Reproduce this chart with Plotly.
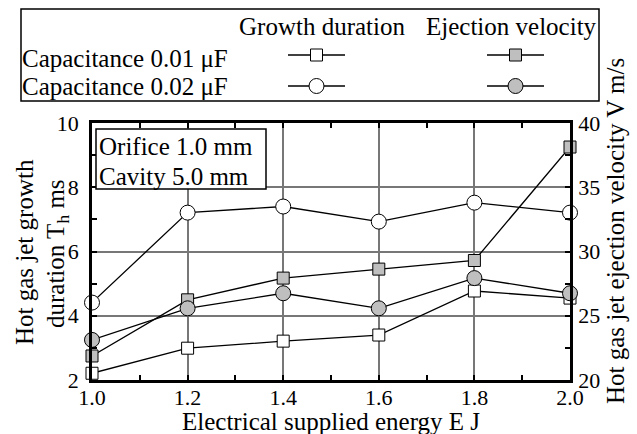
import plotly.graph_objects as go

# ---- data ----
energy = [1.0, 1.2, 1.4, 1.6, 1.8, 2.0]
growth_001 = [2.21, 2.99, 3.21, 3.40, 4.77, 4.55]
growth_002 = [4.41, 7.21, 7.40, 6.93, 7.52, 7.21]
velocity_001 = [21.87, 26.24, 27.93, 28.63, 29.30, 38.13]
velocity_002 = [23.12, 25.58, 26.75, 25.58, 27.93, 26.75]

x_ticks = [1.0, 1.2, 1.4, 1.6, 1.8, 2.0]
y_left_ticks = [2, 4, 6, 8, 10]
y_right_ticks = [20, 25, 30, 35, 40]

W, H = 637, 434
FONT = "Liberation Serif"
GRAY = "#bfbfbf"
LINE = dict(color="black", width=1.3)
TICK_SIZE = 22
TEXT_SIZE = 25

fig = go.Figure()

def series(y, symbol, size, fill, yaxis):
    fig.add_trace(go.Scatter(
        x=energy, y=y, mode="lines+markers", yaxis=yaxis, xaxis="x",
        line=LINE, showlegend=False, cliponaxis=False,
        marker=dict(symbol=symbol, size=size, color=fill,
                    line=dict(color="black", width=1))))

series(growth_001, "square", 12, "white", "y")
series(growth_002, "circle", 15, "white", "y")
series(velocity_001, "square", 12, GRAY, "y2")
series(velocity_002, "circle", 15, GRAY, "y2")

# ---- legend samples (pixel overlay axis) ----
leg_rows = [55, 86]
leg_cols = [(288, 345), (487, 544)]
leg_styles = [[("square", 12, "white"), ("square", 12, GRAY)],
              [("circle", 15, "white"), ("circle", 15, GRAY)]]
for r, yy in enumerate(leg_rows):
    for c, (x0, x1) in enumerate(leg_cols):
        sym, sz, fill = leg_styles[r][c]
        fig.add_trace(go.Scatter(x=[x0, x1], y=[yy, yy], mode="lines",
                                 xaxis="x3", yaxis="y3", line=LINE,
                                 showlegend=False, hoverinfo="skip"))
        fig.add_trace(go.Scatter(x=[(x0 + x1) / 2], y=[yy], mode="markers",
                                 xaxis="x3", yaxis="y3", showlegend=False,
                                 hoverinfo="skip",
                                 marker=dict(symbol=sym, size=sz, color=fill,
                                             line=dict(color="black", width=1))))

PL, PR, PT, PB = 92, 570, 123, 380

fig.update_layout(
    width=W, height=H,
    margin=dict(l=0, r=0, t=0, b=0),
    paper_bgcolor="white", plot_bgcolor="rgba(0,0,0,0)",
    font=dict(family=FONT, size=TICK_SIZE, color="black"),
    xaxis=dict(domain=[PL / W, PR / W], range=[1.0, 2.0], anchor="y",
               tickvals=x_ticks, tickformat=".1f",
               showgrid=True, gridcolor="#777777", gridwidth=1.5,
               showline=True, linecolor="black", linewidth=2.5, mirror="ticks",
               ticks="inside", ticklen=5, tickcolor="black", tickwidth=1.5,
               minor=dict(dtick=0.1, tick0=1.0, ticks="inside", ticklen=5,
                          tickcolor="black", tickwidth=1.5, showgrid=False),
               zeroline=False, automargin=False, ticklabelstandoff=-4,
               tickfont=dict(family=FONT, size=TICK_SIZE)),
    yaxis=dict(domain=[1 - PB / H, 1 - PT / H], range=[2, 10], anchor="x",
               tickvals=y_left_ticks,
               showgrid=True, gridcolor="#777777", gridwidth=1.5,
               showline=True, linecolor="black", linewidth=2.5, mirror="ticks",
               ticks="inside", ticklen=5, tickcolor="black", tickwidth=1.5,
               minor=dict(dtick=1, tick0=2, ticks="inside", ticklen=5,
                          tickcolor="black", tickwidth=1.5, showgrid=False),
               zeroline=False, automargin=False, ticklabelstandoff=6,
               tickfont=dict(family=FONT, size=TICK_SIZE)),
    yaxis2=dict(overlaying="y", side="right", anchor="x", range=[20, 40],
                tickvals=y_right_ticks, showgrid=False, zeroline=False,
                showline=True, linecolor="black", linewidth=2.5,
                ticks="", automargin=False, ticklabelstandoff=1,
                tickfont=dict(family=FONT, size=TICK_SIZE)),
    xaxis3=dict(domain=[0, 1], range=[0, W], visible=False, anchor="y3",
                fixedrange=True),
    yaxis3=dict(domain=[0, 1], range=[H, 0], visible=False, anchor="x3",
                fixedrange=True),
)

shapes = []
# darker grid lines at 25 and 30 on the right axis
for v in [25, 30]:
    shapes.append(dict(type="line", xref="x domain", yref="y2", x0=0, x1=1,
                       y0=v, y1=v, line=dict(color="black", width=1.2),
                       layer="below"))
# legend frame
shapes.append(dict(type="rect", xref="x3", yref="y3", x0=21, x1=599, y0=9, y1=101,
                   line=dict(color="black", width=1.5), fillcolor="white",
                   layer="below"))
# info box in plot
shapes.append(dict(type="rect", xref="x3", yref="y3", x0=96, x1=266, y0=129, y1=189,
                   line=dict(color="black", width=1.5), fillcolor="white",
                   layer="above"))
fig.update_layout(shapes=shapes)

def ann(text, x, y, xanchor="center", yanchor="middle", angle=0, size=TEXT_SIZE):
    fig.add_annotation(text=text, x=x, y=y, xref="x3", yref="y3",
                       xanchor=xanchor, yanchor=yanchor, textangle=angle,
                       showarrow=False, font=dict(family=FONT, size=size))

ann("Growth duration", 322, 26)
ann("Ejection velocity", 511, 26)
ann("Capacitance 0.01 μF", 20, 58, xanchor="left")
ann("Capacitance 0.02 μF", 20, 86, xanchor="left")
ann("Orifice 1.0 mm", 97, 146, xanchor="left")
ann("Cavity 5.0 mm", 97, 176, xanchor="left")
ann("Electrical supplied energy E J", 331, 421)
ann("Hot gas jet growth", 24, 252, angle=-90)
ann("duration T<sub>h</sub> ms", 57, 254, angle=-90)
ann("Hot gas jet ejection velocity V m/s", 615, 231, angle=-90)

fig.write_html("out.html", config={"displayModeBar": False},
               post_script="document.body.style.margin='0';document.body.style.overflow='hidden';")
